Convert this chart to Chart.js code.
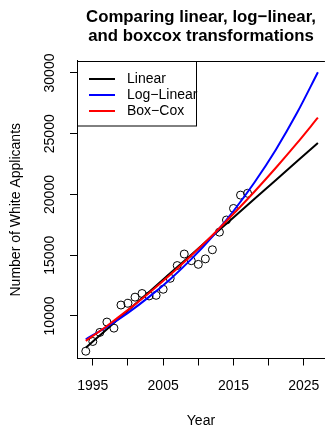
<!DOCTYPE html>
<html>
<head>
<meta charset="utf-8">
<script src="https://cdn.jsdelivr.net/npm/chart.js@4.4.1/dist/chart.umd.min.js"></script>
<style>
  html, body { margin: 0; padding: 0; background: #fff; overflow: hidden; }
  canvas { display: block; }
</style>
</head>
<body>
<canvas id="chart" width="332" height="428"></canvas>
<script>
// Observed applicants, one point per year.
const years = [1994, 1995, 1996, 1997, 1998, 1999, 2000, 2001, 2002, 2003, 2004, 2005,
               2006, 2007, 2008, 2009, 2010, 2011, 2012, 2013, 2014, 2015, 2016, 2017];
const applicants = [7100, 7900, 8650, 9500, 9000, 10900, 11050, 11550, 11850, 11650, 11700, 12200,
                    13100, 14150, 15100, 14550, 14250, 14700, 15450, 16900, 17900, 18850, 19950, 20100];

// Fitted curves, 1994 → 2027.
const fitYears     = [1994, 1997, 2000, 2003, 2006, 2009, 2012, 2015, 2018, 2021, 2024, 2027];
const linearFit    = [7380, 8910, 10450, 11980, 13510, 15050, 16580, 18110, 19640, 21180, 22710, 24240];
const logLinearFit = [8080, 9110, 10260, 11570, 13030, 14680, 16540, 18640, 21010, 23670, 26680, 30060];
const boxCoxFit    = [7950, 9180, 10500, 11900, 13390, 14980, 16640, 18410, 20250, 22180, 24200, 26320];

const xTicks      = [1995, 2000, 2005, 2010, 2015, 2020, 2025];
const xLabelYears = [1995, 2005, 2015, 2025];
const yTicks      = [10000, 15000, 20000, 25000, 30000];
const titleLines  = ['Comparing linear, log\u2212linear,', 'and boxcox transformations'];

Chart.defaults.font.family = "'Liberation Sans', Arial, Helvetica, sans-serif";
Chart.defaults.font.size = 14;
Chart.defaults.color = '#000';

const pts = (xs, ys) => xs.map((x, i) => ({ x, y: ys[i] }));

function fitLine(label, color, data, order) {
    return {
        type: 'line',
        label,
        data: pts(fitYears, data),
        borderColor: color,
        backgroundColor: color,
        borderWidth: 2,
        pointRadius: 0,
        fill: false,
        cubicInterpolationMode: 'monotone',
        order,
    };
}

// R-style box: top edge + legend inside the plot's top-left corner.
const boxAndLegend = {
    id: 'boxAndLegend',
    afterDraw(chart) {
        const { ctx, chartArea: a } = chart;
        ctx.save();
        ctx.strokeStyle = '#000';
        ctx.lineWidth = 1;
        ctx.beginPath();
        ctx.moveTo(a.left, Math.round(a.top) + 0.5);
        ctx.lineTo(a.right, Math.round(a.top) + 0.5);
        ctx.stroke();

        const lx = a.left, ly = Math.round(a.top) + 0.5;
        const lw = 119, lh = 64.5;
        ctx.fillStyle = '#fff';
        ctx.fillRect(lx, ly, lw, lh);
        ctx.strokeRect(lx + 0.5, ly, lw, lh);

        const entries = chart.data.datasets.filter(d => d.type === 'line');
        ctx.font = "14px 'Liberation Sans', Arial, sans-serif";
        ctx.textBaseline = 'middle';
        ctx.textAlign = 'left';
        entries.forEach((d, i) => {
            const y = ly + 17.5 + i * 16;
            ctx.strokeStyle = d.borderColor;
            ctx.lineWidth = 2;
            ctx.beginPath();
            ctx.moveTo(lx + 12, y);
            ctx.lineTo(lx + 38, y);
            ctx.stroke();
            ctx.fillStyle = '#000';
            ctx.fillText(d.label, lx + 50, y);
        });
        ctx.restore();
    },
};

new Chart(document.getElementById('chart'), {
    data: {
        datasets: [
            {
                type: 'scatter',
                label: 'Observed',
                data: pts(years, applicants),
                pointStyle: 'circle',
                pointRadius: 4,
                pointBorderWidth: 1,
                borderColor: '#000',
                backgroundColor: 'rgba(0,0,0,0)',
                order: 4,
            },
            fitLine('Linear', '#000000', linearFit, 3),
            fitLine('Log\u2212Linear', '#0000ff', logLinearFit, 2),
            fitLine('Box\u2212Cox', '#ff0000', boxCoxFit, 1),
        ],
    },
    options: {
        responsive: false,
        animation: false,
        devicePixelRatio: 1,
        layout: { padding: 0 },
        plugins: {
            legend: { display: false },
            tooltip: { enabled: false },
            title: {
                display: true,
                fullSize: false,
                text: titleLines,
                font: { size: 16.8, weight: 'bold', lineHeight: 1.13 },
                padding: { top: 7.8, bottom: 15.2 },
                color: '#000',
            },
        },
        scales: {
            x: {
                type: 'linear',
                min: 1992.75,
                max: 2028.0,
                afterFit(s) { s.height = 69.5; },
                afterBuildTicks(s) { s.ticks = xTicks.map(v => ({ value: v })); },
                grid: { drawOnChartArea: false, drawTicks: true, tickLength: 7, tickColor: '#000' },
                border: { display: true, color: '#000', width: 1 },
                ticks: {
                    autoSkip: false,
                    maxRotation: 0,
                    padding: 12,
                    callback: v => (xLabelYears.includes(v) ? String(v) : ''),
                },
                title: { display: true, text: 'Year', font: { size: 14, lineHeight: 1 }, padding: { top: 0, bottom: 0 } },
            },
            y: {
                type: 'linear',
                min: 6500,
                max: 30990,
                afterFit(s) { s.width = 77; },
                afterBuildTicks(s) { s.ticks = yTicks.map(v => ({ value: v })); },
                grid: { drawOnChartArea: false, drawTicks: true, tickLength: 7, tickColor: '#000' },
                border: { display: true, color: '#000', width: 1 },
                ticks: {
                    autoSkip: false,
                    minRotation: 90,
                    maxRotation: 90,
                    crossAlign: 'center',
                    padding: 0,
                    callback: v => String(v),
                },
                title: { display: true, text: 'Number of White Applicants', font: { size: 14, lineHeight: 1 }, padding: { top: 9, bottom: 0 } },
            },
        },
    },
    plugins: [boxAndLegend],
});
</script>
</body>
</html>
